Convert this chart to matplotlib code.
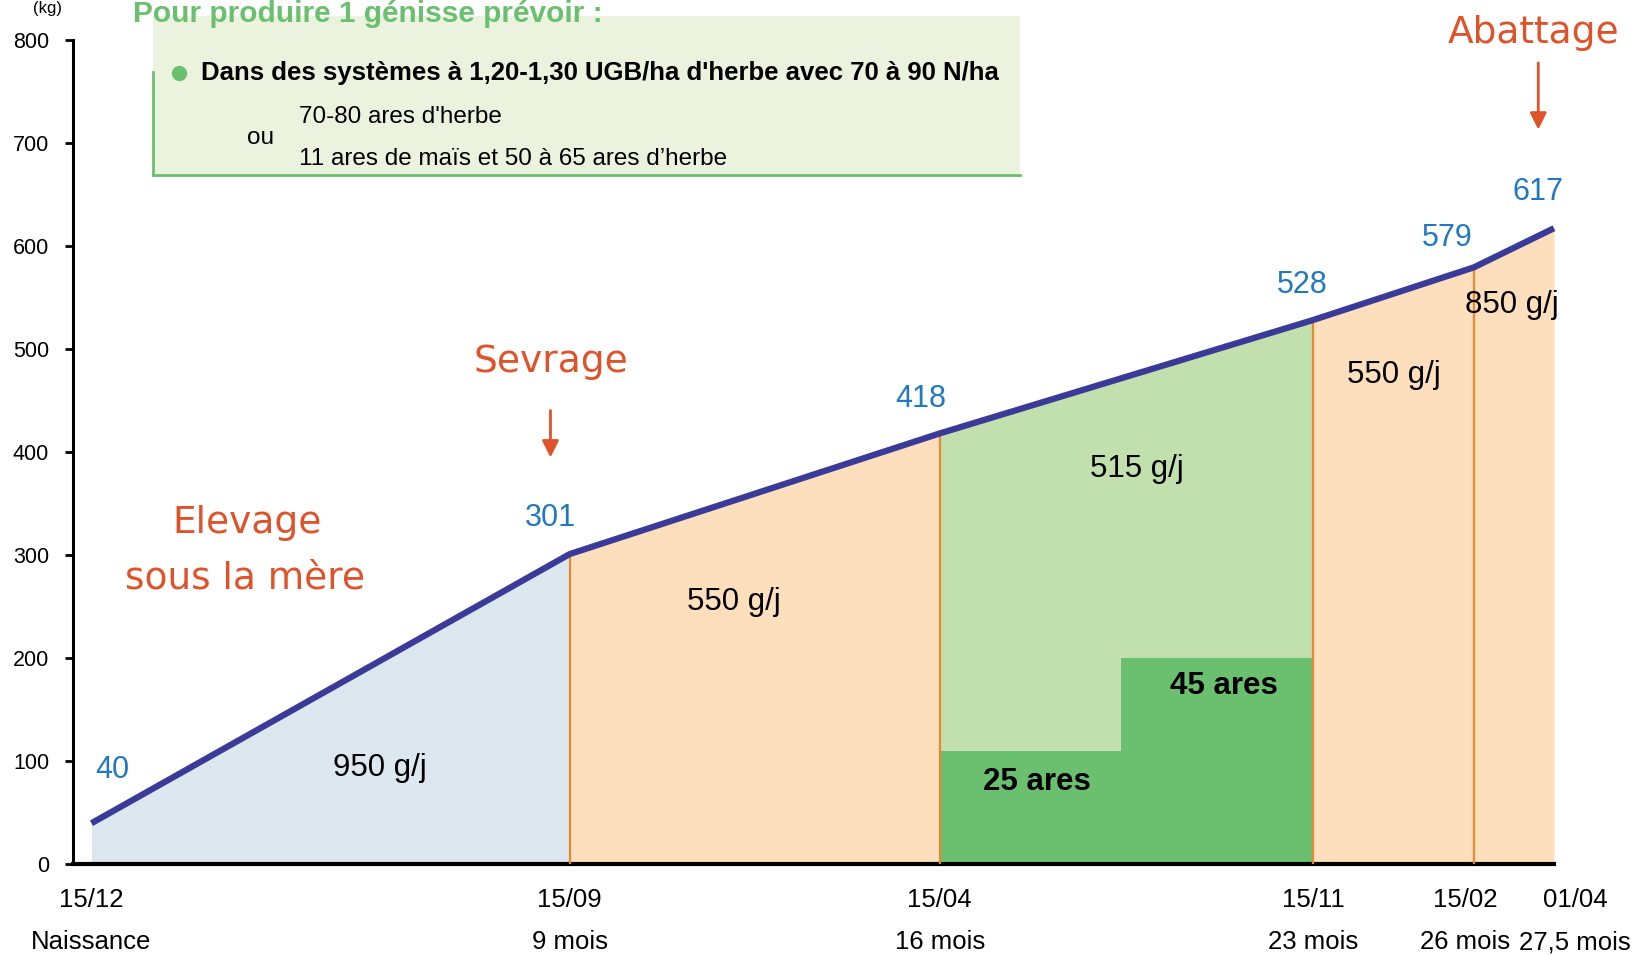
import matplotlib
matplotlib.use('Agg')
import matplotlib.pyplot as plt
import matplotlib.transforms as mtrans
from matplotlib.patches import Rectangle
import pandas as pd

# Données
dates = ['2021-12-15', '2022-09-15', '2023-04-15', '2023-11-15', '2024-02-15', '2024-04-01']
poids = [40, 301, 418, 528, 579, 617]
date_labels = ['15/12', '15/09', '15/04', '15/11', '15/02', '01/04']
age_labels = ['Naissance', '9 mois', '16 mois', '23 mois', '26 mois', '27,5 mois']
gmq_labels = ['950 g/j', '550 g/j', '515 g/j', '550 g/j', '850 g/j']
ares_debut = ['2023-04-15', '2023-07-28']
ares_fin = ['2023-07-28', '2023-11-15']
ares_hauteur = [110, 200]
ares_labels = ['25 ares', '45 ares']

# jours depuis la naissance
d = pd.to_datetime(dates)
jours = [(x - d[0]).days for x in d]
a_deb = [(pd.Timestamp(x) - d[0]).days for x in ares_debut]
a_fin = [(pd.Timestamp(x) - d[0]).days for x in ares_fin]

plt.rcParams['font.family'] = ['Liberation Sans', 'DejaVu Sans']

BLEU = '#DDE7F0'
PECHE = '#FDDFBE'
VERT_CLAIR = '#C2E0AD'
VERT = '#6BC06F'
ORANGE = '#E8892F'
ROUGE = '#E0522A'
MARINE = '#3A3A98'
BLEU_TXT = '#1F78C1'

fig = plt.figure(figsize=(16.32, 9.55), dpi=100)
ax = fig.add_axes([0.0446, 0.0948, 0.9076, 0.8638])

couleurs = [BLEU, PECHE, VERT_CLAIR, PECHE, PECHE]
for i in range(len(jours) - 1):
    ax.fill_between(jours[i:i + 2], [0, 0], poids[i:i + 2], color=couleurs[i], lw=0, zorder=1)

ax.bar(a_deb, ares_hauteur, width=[f - s for s, f in zip(a_deb, a_fin)],
       align='edge', color=VERT, lw=0, zorder=2)

for x, y in zip(jours[1:-1], poids[1:-1]):
    ax.plot([x, x], [0, y], color=ORANGE, lw=1.6, zorder=3)

ax.plot(jours, poids, color=MARINE, lw=4.5, solid_capstyle='butt', zorder=5, clip_on=False)

# étiquettes de poids
pos_poids = [(12, 92), (263, 336), (475, 451), (694, 562), (777, 608), (829, 652)]
for (x, y), v in zip(pos_poids, poids):
    ax.text(x, y, str(v), color=BLEU_TXT, fontsize=22, ha='center', va='center', zorder=6)

# croissance par période
pos_gmq = [(165, 94), (368, 255), (599, 384), (746, 475), (814, 543)]
for (x, y), t in zip(pos_gmq, gmq_labels):
    ax.text(x, y, t, fontsize=22.5, ha='center', va='center', zorder=6)

pos_ares = [(542, 80), (649, 173)]
for (x, y), t in zip(pos_ares, ares_labels):
    ax.text(x, y, t, fontsize=22.5, fontweight='bold', ha='center', va='center', zorder=6)

# annotations
comic = dict(color=ROUGE, fontsize=27, ha='center', va='center', family=['DejaVu Sans'])
ax.text(89, 331, 'Elevage', **comic)
ax.text(88, 277, 'sous la mère', **comic)
ax.text(263, 487, 'Sevrage', **comic)
ax.text(826, 806, 'Abattage', clip_on=False, **comic)
arrow = dict(arrowstyle='-|>', color=ROUGE, lw=2, mutation_scale=25)
ax.annotate('', xy=(263, 392), xytext=(263, 443), arrowprops=arrow)
ax.annotate('', xy=(829, 710), xytext=(829, 780), arrowprops=arrow, annotation_clip=False)

ax.set_xlim(-10.7, jours[-1])
ax.set_ylim(0, 800)
ax.set_yticks(range(0, 801, 100))
ax.set_xticks(jours)
ax.set_xticklabels([f'{a}\n{b}' for a, b in zip(date_labels, age_labels)], linespacing=1.95)
ax.tick_params(axis='x', length=0, labelsize=18.5, pad=17)
ax.tick_params(axis='y', length=6, width=2, labelsize=15.5, pad=11)
# décalage des deux dernières étiquettes comme sur l'original
decal = [0, 0, 0, 0, -6, 15]
for lab, dx in zip(ax.get_xticklabels(), decal):
    lab.set_transform(lab.get_transform() + mtrans.ScaledTranslation(dx / 72, 0, fig.dpi_scale_trans))
for s in ['top', 'right']:
    ax.spines[s].set_visible(False)
ax.spines['left'].set_linewidth(2.2)
ax.spines['bottom'].set_linewidth(3)
ax.set_facecolor('none')

# encadré
fig.patches.append(Rectangle((0.0938, 0.817), 0.5312, 0.1667, transform=fig.transFigure,
                             facecolor='#EBF2DE', edgecolor='none', zorder=0))
fig.add_artist(plt.Line2D([0.0938, 0.0938], [0.817, 0.925], color=VERT, lw=2))
fig.add_artist(plt.Line2D([0.0938, 0.625], [0.817, 0.817], color=VERT, lw=2))
fig.text(0.0816, 0.985, 'Pour produire 1 génisse prévoir :', color=VERT, fontsize=21.5,
         fontweight='bold', ha='left', va='center')
fig.add_artist(plt.Line2D([0.1097], [0.9237], marker='o', markersize=10, color=VERT, lw=0))
fig.text(0.1231, 0.9237, "Dans des systèmes à 1,20-1,30 UGB/ha d'herbe avec 70 à 90 N/ha",
         fontsize=18.5, fontweight='bold', ha='left', va='center')
fig.text(0.1594, 0.856, 'ou', fontsize=17.5, ha='center', va='center')
fig.text(0.183, 0.878, "70-80 ares d'herbe", fontsize=17.5, ha='left', va='center')
fig.text(0.183, 0.834, "11 ares de maïs et 50 à 65 ares d’herbe", fontsize=17.5, ha='left', va='center')
fig.text(0.02, 0.991, '(kg)', fontsize=12, ha='left', va='center')

fig.savefig('out.png', dpi=100)
